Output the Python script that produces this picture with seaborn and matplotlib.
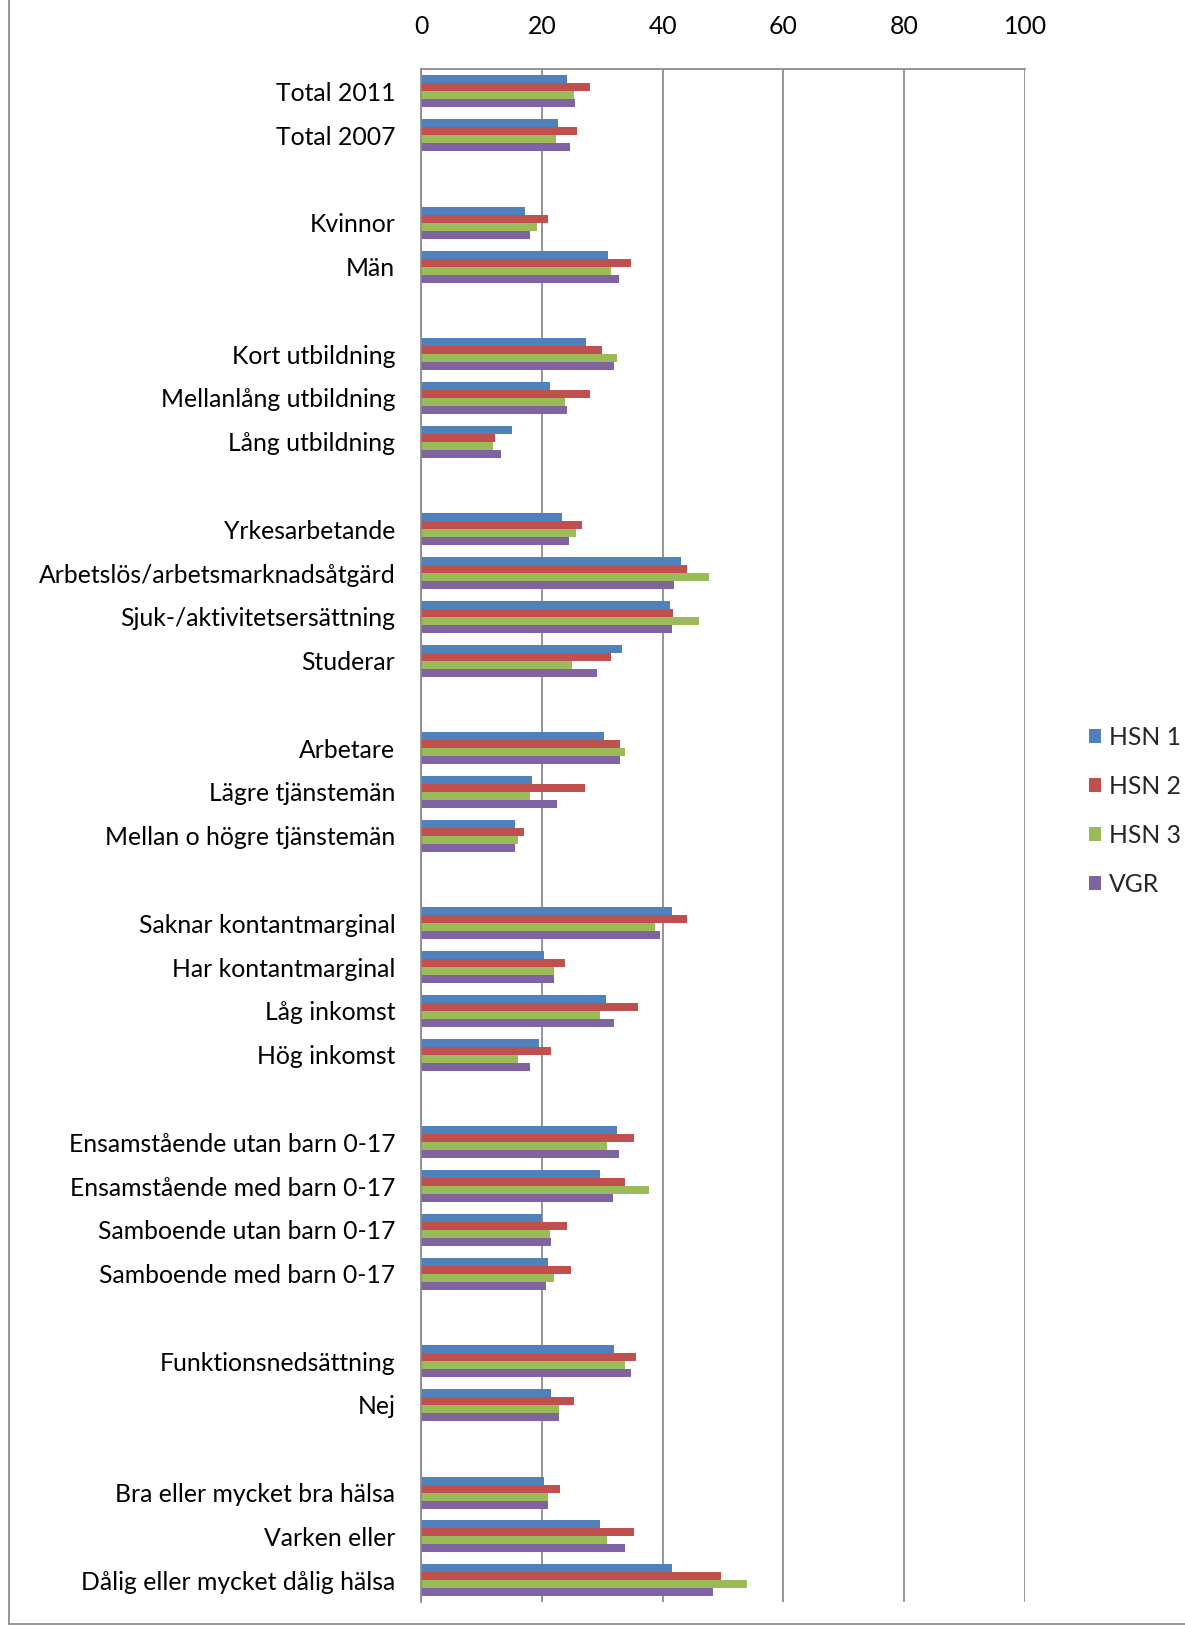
import matplotlib
matplotlib.use("Agg")
import matplotlib.pyplot as plt
from matplotlib.lines import Line2D
import pandas as pd
import seaborn as sns

# Share (%) per group and area
categories = [
    "Total 2011", "Total 2007",
    "Kvinnor", "Män",
    "Kort utbildning", "Mellanlång utbildning", "Lång utbildning",
    "Yrkesarbetande", "Arbetslös/arbetsmarknadsåtgärd",
    "Sjuk-/aktivitetsersättning", "Studerar",
    "Arbetare", "Lägre tjänstemän", "Mellan o högre tjänstemän",
    "Saknar kontantmarginal", "Har kontantmarginal", "Låg inkomst", "Hög inkomst",
    "Ensamstående utan barn 0-17", "Ensamstående med barn 0-17",
    "Samboende utan barn 0-17", "Samboende med barn 0-17",
    "Funktionsnedsättning", "Nej",
    "Bra eller mycket bra hälsa", "Varken eller", "Dålig eller mycket dålig hälsa",
]
group_sizes = [2, 2, 3, 4, 3, 4, 4, 2, 3]

hsn1 = [24.1, 22.7, 17.3, 31.0, 27.4, 21.3, 15.1, 23.4, 43.1, 41.3, 33.3,
        30.3, 18.4, 15.6, 41.5, 20.4, 30.7, 19.6, 32.4, 29.6, 20.0, 21.1,
        32.0, 21.5, 20.4, 29.7, 41.5]
hsn2 = [28.0, 25.8, 21.0, 34.8, 30.0, 28.0, 12.3, 26.6, 44.1, 41.8, 31.5,
        33.0, 27.1, 17.0, 44.1, 23.8, 35.9, 21.5, 35.2, 33.7, 24.1, 24.9,
        35.6, 25.4, 23.0, 35.2, 49.7]
hsn3 = [25.4, 22.4, 19.2, 31.5, 32.5, 23.8, 12.0, 25.6, 47.6, 46.1, 25.0,
        33.7, 18.1, 16.1, 38.7, 22.0, 29.7, 16.0, 30.8, 37.8, 21.3, 22.1,
        33.7, 22.9, 21.1, 30.8, 54.0]
vgr = [25.5, 24.6, 18.1, 32.8, 32.0, 24.1, 13.3, 24.5, 41.9, 41.6, 29.2,
       33.0, 22.5, 15.6, 39.5, 22.0, 31.9, 18.1, 32.8, 31.8, 21.5, 20.7,
       34.7, 22.9, 21.1, 33.8, 48.4]

series_names = ["HSN 1", "HSN 2", "HSN 3", "VGR"]
series_colors = ["#4F81BD", "#C0504D", "#9BBB59", "#8064A2"]

# Long table for seaborn
df = pd.DataFrame({"Grupp": categories, "HSN 1": hsn1, "HSN 2": hsn2,
                   "HSN 3": hsn3, "VGR": vgr})
long_df = df.melt(id_vars="Grupp", var_name="Område", value_name="Andel")

# Category order with empty rows between the groups
order = []
pos = 0
for i, size in enumerate(group_sizes):
    if i > 0:
        order.append(" " * i)
    order.extend(categories[pos:pos + size])
    pos += size

sns.set_theme(style="white")
plt.rcParams["font.family"] = ["Lato", "DejaVu Sans"]

FS = 17.8
W, H = 1185, 1626
fig = plt.figure(figsize=(W / 100, H / 100), dpi=100)
ax_left, ax_right, ax_top, ax_bottom = 421, 1025, 69.5, 1602
ax = fig.add_axes([ax_left / W, 1 - ax_bottom / H,
                   (ax_right - ax_left) / W, (ax_bottom - ax_top) / H])

sns.barplot(data=long_df, x="Andel", y="Grupp", hue="Område",
            order=order, hue_order=series_names, palette=series_colors,
            orient="h", width=0.73, saturation=1, dodge=True,
            linewidth=0, ax=ax, legend=True)

grid_color = "#8C8C8C"
ax.set_xlim(0, 100)
ax.set_xticks([0, 20, 40, 60, 80, 100])
ax.xaxis.tick_top()
ax.set_xlabel("")
ax.set_ylabel("")
ax.grid(axis="x", color=grid_color, linewidth=1.3)
ax.set_axisbelow(True)
for side in ["right", "bottom"]:
    ax.spines[side].set_visible(False)
for side in ["left", "top"]:
    ax.spines[side].set_color(grid_color)
    ax.spines[side].set_linewidth(1.3)
ax.tick_params(axis="x", length=0, pad=22.5, labelsize=FS, colors="black")
ax.tick_params(axis="y", length=0, pad=18.5, labelsize=FS, colors="black")

handles, labels = ax.get_legend_handles_labels()
ax.legend(handles, labels, loc="center left",
          bbox_to_anchor=(1089 / W, 1 - 811 / H), bbox_transform=fig.transFigure,
          frameon=False, fontsize=FS, handlelength=0.5, handleheight=0.5,
          handletextpad=0.3, labelspacing=1.05, borderpad=0, borderaxespad=0)

# Outer chart frame (left and bottom edges)
fig.add_artist(Line2D([9 / W, 9 / W], [1 - 1624 / H, 1.0], transform=fig.transFigure,
                      color=grid_color, linewidth=1.3))
fig.add_artist(Line2D([9 / W, 1.0], [1 - 1624 / H, 1 - 1624 / H], transform=fig.transFigure,
                      color=grid_color, linewidth=1.3))

fig.savefig("out.png", dpi=100)
